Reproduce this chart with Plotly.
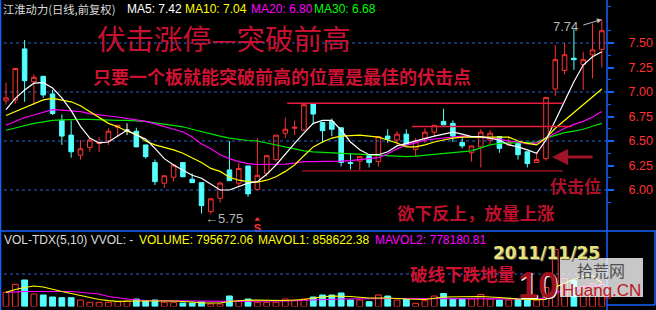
import plotly.graph_objects as go

W, H = 656, 310

# ---------------- data ----------------
opens = [6.91, 6.92, 7.44, 7.105, 7.16, 6.98, 6.71, 6.56, 6.355, 6.435,
         6.475, 6.50, 6.64, 6.61, 6.60, 6.46, 6.28, 6.07, 6.13, 6.28,
         6.11, 6.075, 5.78, 5.915, 6.205, 6.07, 6.245, 6.005, 6.17, 6.31,
         6.58, 6.63, 6.61, 6.88, 6.69, 6.70, 6.635, 6.28, 6.295, 6.35,
         6.29, 6.55, 6.51, 6.57, 6.415, 6.53, 6.59, 6.70, 6.68, 6.485,
         6.38, 6.44, 6.51, 6.545, 6.46, 6.475, 6.39, 6.28, 6.32, 7.03,
         7.22, 7.345, 7.28, 7.38, 7.435]
highs = [7.095, 7.24, 7.53, 7.18, 7.165, 7.02, 6.77, 6.71, 6.51, 6.53,
         6.54, 6.63, 6.665, 6.68, 6.635, 6.46, 6.31, 6.145, 6.26, 6.28,
         6.17, 6.075, 5.92, 6.085, 6.50, 6.275, 6.245, 6.53, 6.35, 6.56,
         6.74, 6.71, 6.89, 6.88, 6.69, 6.73, 6.64, 6.37, 6.345, 6.35,
         6.55, 6.62, 6.60, 6.62, 6.53, 6.63, 6.66, 6.83, 6.71, 6.54,
         6.45, 6.62, 6.61, 6.55, 6.545, 6.48, 6.39, 6.39, 6.945, 7.48,
         7.50, 7.64, 7.41, 7.70, 7.74]
lows = [6.87, 6.88, 6.90, 6.87, 6.94, 6.765, 6.46, 6.33, 6.31, 6.39,
        6.39, 6.46, 6.54, 6.56, 6.44, 6.32, 6.05, 6.02, 6.085, 6.135,
        6.075, 5.76, 5.75, 5.87, 6.095, 6.03, 5.93, 6.005, 6.135, 6.29,
        6.53, 6.56, 6.60, 6.67, 6.48, 6.55, 6.24, 6.21, 6.20, 6.23,
        6.24, 6.48, 6.46, 6.46, 6.34, 6.48, 6.545, 6.665, 6.49, 6.425,
        6.29, 6.23, 6.46, 6.38, 6.46, 6.31, 6.23, 6.28, 6.30, 6.96,
        7.18, 7.225, 7.02, 7.14, 7.25]
closes = [6.94, 7.24, 7.115, 7.15, 6.97, 6.78, 6.55, 6.39, 6.42, 6.51,
          6.485, 6.60, 6.66, 6.61, 6.44, 6.34, 6.085, 6.145, 6.255, 6.135,
          6.075, 5.84, 5.91, 6.07, 6.095, 6.22, 5.96, 6.15, 6.35, 6.56,
          6.62, 6.64, 6.87, 6.775, 6.605, 6.62, 6.28, 6.27, 6.34, 6.28,
          6.545, 6.52, 6.57, 6.46, 6.50, 6.59, 6.66, 6.665, 6.55, 6.45,
          6.45, 6.59, 6.58, 6.425, 6.49, 6.36, 6.27, 6.31, 6.945, 7.33,
          7.38, 7.33, 7.33, 7.43, 7.625]
volumes = [513000, 802500, 958000, 452000, 415700, 343400, 318100, 318100, 235000, 151800,
           151800, 151800, 173500, 198800, 271100, 198800, 235000, 151800, 151800, 126500,
           126500, 173500, 90400, 90400, 379600, 198800, 271100, 151800, 151800, 151800,
           271100, 209700, 271100, 343400, 415700, 415700, 488000, 235000, 235000, 173500,
           415700, 379600, 235000, 271100, 115700, 209700, 379600, 470000, 271100, 271100,
           271100, 433800, 271100, 235000, 235000, 271100, 235000, 235000, 686900, 2060600,
           1012200, 939900, 723000, 822400, 795672]

ma5 = [6.82, 6.935, 7.02, 7.09, 7.095, 7.04, 6.94, 6.81, 6.65, 6.53,
       6.48, 6.49, 6.55, 6.61, 6.56, 6.52, 6.425, 6.32, 6.255, 6.20,
       6.15, 6.12, 6.06, 6.00, 6.00, 6.035, 6.07, 6.085, 6.16, 6.255,
       6.37, 6.475, 6.58, 6.68, 6.71, 6.71, 6.61, 6.49, 6.41, 6.36,
       6.36, 6.39, 6.45, 6.475, 6.50, 6.53, 6.55, 6.57, 6.59, 6.57,
       6.545, 6.545, 6.53, 6.51, 6.46, 6.44, 6.41, 6.375, 6.51, 6.71,
       6.92, 7.105, 7.275, 7.36, 7.41]
ma10 = [6.76, 6.80, 6.84, 6.875, 6.92, 6.935, 6.92, 6.90, 6.86, 6.80,
        6.74, 6.68, 6.645, 6.60, 6.57, 6.50, 6.46, 6.435, 6.41, 6.375,
        6.33, 6.28, 6.22, 6.19, 6.13, 6.10, 6.085, 6.08, 6.10, 6.135,
        6.19, 6.255, 6.35, 6.44, 6.49, 6.53, 6.55, 6.555, 6.56, 6.55,
        6.54, 6.51, 6.48, 6.44, 6.44, 6.46, 6.49, 6.51, 6.53, 6.54,
        6.54, 6.545, 6.545, 6.545, 6.54, 6.50, 6.475, 6.46, 6.53, 6.63,
        6.71, 6.78, 6.87, 6.945, 7.03]
ma20 = [6.66, 6.70, 6.74, 6.765, 6.79, 6.82, 6.815, 6.81, 6.80, 6.78,
        6.765, 6.755, 6.745, 6.73, 6.715, 6.70, 6.675, 6.645, 6.62, 6.595,
        6.54, 6.47, 6.42, 6.36, 6.32, 6.29, 6.27, 6.26, 6.26, 6.26,
        6.265, 6.275, 6.29, 6.29, 6.29, 6.29, 6.295, 6.30, 6.31, 6.32,
        6.33, 6.37, 6.42, 6.46, 6.48, 6.51, 6.52, 6.53, 6.54, 6.55,
        6.545, 6.54, 6.53, 6.52, 6.50, 6.49, 6.47, 6.48, 6.53, 6.58,
        6.63, 6.67, 6.70, 6.745, 6.80]
ma30 = [6.61, 6.635, 6.66, 6.68, 6.695, 6.71, 6.715, 6.72, 6.72, 6.72,
        6.715, 6.71, 6.71, 6.71, 6.705, 6.70, 6.685, 6.67, 6.66, 6.645,
        6.62, 6.595, 6.575, 6.55, 6.53, 6.515, 6.505, 6.50, 6.48, 6.46,
        6.44, 6.42, 6.40, 6.39, 6.385, 6.38, 6.375, 6.37, 6.365, 6.36,
        6.36, 6.355, 6.35, 6.34, 6.345, 6.355, 6.36, 6.37, 6.38, 6.39,
        6.40, 6.43, 6.46, 6.475, 6.48, 6.485, 6.49, 6.49, 6.53, 6.56,
        6.585, 6.60, 6.62, 6.65, 6.68]

mavol1_idx = [0, 1, 2, 3, 4, 5, 6, 7, 8, 9, 10, 11, 12, 14, 16, 18, 20, 21, 23, 24,
              26, 28, 30, 32, 33, 35, 37, 39, 41, 43, 45, 47, 49, 51, 53, 55, 57, 58,
              59, 60, 61, 62, 63, 64]
mavol1 = [513000, 614600, 686900, 741100, 704900, 614600, 542300, 470000, 397700, 325400,
          253100, 209700, 188000, 198800, 209700, 198800, 162700, 126500, 126500, 180800,
          235000, 216900, 216900, 253100, 307300, 379600, 361500, 307300, 307300, 271100,
          253100, 343400, 361500, 361500, 325400, 271100, 245800, 253100,
          697700, 846000, 986900, 1084500, 1111600, 858622]
mavol2_idx = [0, 2, 7, 9, 10, 11, 12, 13, 15, 18, 24, 30, 33, 36, 42, 48, 54, 57, 58,
              59, 60, 61, 62, 63, 64]
mavol2 = [513000, 542300, 542300, 488000, 451900, 361500, 307300, 271100, 216900, 198800,
          188000, 198800, 235000, 271100, 289200, 289200, 289200, 271100, 314500,
          493500, 587600, 638200, 663400, 722100, 778180]

price_ticks = [6.0, 6.25, 6.5, 6.75, 7.0, 7.25, 7.5]
price_minor = [5.875, 6.125, 6.375, 6.625, 6.875, 7.125, 7.375, 7.625, 7.875]
grid_levels = [6.0, 6.5, 7.0, 7.5]
vol_grid_level = 1175000

level_prices = [6.885, 6.648, 6.196]
level_start = [30.2, 43.6, 31.8]
level_end = [59.8, 60.8, 59.8]

low_mark = (22, 5.75)
high_mark = (64, 7.74)
signal_mark = (27, 5.70)

# ---------------- styles ----------------
RED = "rgb(255,50,50)"
CYAN = "rgb(84,255,255)"
BLUE = "rgb(20,100,255)"
GRIDBLUE = "rgb(40,100,210)"
TXTRED = "rgb(205,18,50)"
CJK = "Noto Sans CJK SC"
LAT = "Liberation Sans, Arial"

X0, X1 = -0.6445, 64.555
PRICE_RANGE = [5.5816, 7.9388]
VOL_RANGE = [0, 2223225]


def px(x):
    return x / W


def py(y):
    return 1 - y / H


fig = go.Figure()

n = len(closes)
idx = list(range(n))
up = [i for i in idx if closes[i] > opens[i]]
dn = [i for i in idx if closes[i] < opens[i]]
fl = [i for i in idx if closes[i] == opens[i]]


def candles(ids, color, fill):
    style = dict(line=dict(color=color, width=1), fillcolor=fill)
    return go.Candlestick(
        x=ids,
        open=[opens[i] for i in ids], high=[highs[i] for i in ids],
        low=[lows[i] for i in ids], close=[closes[i] for i in ids],
        increasing=style, decreasing=style, whiskerwidth=0,
        xaxis="x", yaxis="y", showlegend=False, hoverinfo="skip")


fig.add_trace(candles(up, RED, "rgba(0,0,0,0)"))
fig.add_trace(candles(dn, CYAN, CYAN))
fig.add_trace(candles(fl, "white", "white"))

for vals, col in [(ma30, "rgb(0,230,0)"), (ma20, "rgb(255,0,255)"),
                  (ma10, "rgb(255,255,0)"), (ma5, "white")]:
    fig.add_trace(go.Scatter(x=idx, y=vals, mode="lines",
                             line=dict(color=col, width=1.2),
                             xaxis="x", yaxis="y", showlegend=False, hoverinfo="skip"))

# sell-signal marker under the chart
fig.add_trace(go.Scatter(x=[signal_mark[0]], y=[signal_mark[1]], mode="markers+text",
                         marker=dict(symbol="triangle-up", size=5, color=RED),
                         text=["S"], textposition="bottom center",
                         textfont=dict(color=RED, size=11, family=LAT, weight="bold"),
                         xaxis="x", yaxis="y", showlegend=False, hoverinfo="skip",
                         cliponaxis=False))

# volume bars
vup = [i for i in idx if closes[i] >= opens[i]]
vdn = [i for i in idx if closes[i] < opens[i]]
fig.add_trace(go.Bar(x=vup, y=[volumes[i] for i in vup], width=0.62,
                     marker=dict(color="rgba(0,0,0,0)", line=dict(color=RED, width=1)),
                     xaxis="x2", yaxis="y2", showlegend=False, hoverinfo="skip"))
fig.add_trace(go.Bar(x=vdn, y=[volumes[i] for i in vdn], width=0.62,
                     marker=dict(color=CYAN, line=dict(color=CYAN, width=1)),
                     xaxis="x2", yaxis="y2", showlegend=False, hoverinfo="skip"))
fig.add_trace(go.Scatter(x=mavol2_idx, y=mavol2, mode="lines",
                         line=dict(color="rgb(255,0,255)", width=1.2),
                         xaxis="x2", yaxis="y2", showlegend=False, hoverinfo="skip"))
fig.add_trace(go.Scatter(x=mavol1_idx, y=mavol1, mode="lines",
                         line=dict(color="rgb(255,255,0)", width=1.2),
                         xaxis="x2", yaxis="y2", showlegend=False, hoverinfo="skip"))

shapes = []
# dotted grid lines
for g in grid_levels:
    shapes.append(dict(type="line", xref="paper", yref="y", x0=px(4), x1=px(607), y0=g, y1=g,
                       line=dict(color=GRIDBLUE, width=1, dash="dot"), layer="below"))
shapes.append(dict(type="line", xref="paper", yref="y2", x0=px(4), x1=px(607),
                   y0=vol_grid_level, y1=vol_grid_level,
                   line=dict(color=GRIDBLUE, width=1, dash="dot"), layer="below"))
# support / resistance lines
for lvl, a, b, col in zip(level_prices, level_start, level_end,
                          ["rgb(230,30,60)", "rgb(230,30,60)", "rgb(170,20,40)"]):
    shapes.append(dict(type="line", xref="x", yref="y", x0=a, x1=b, y0=lvl, y1=lvl,
                       line=dict(color=col, width=1.3)))
# frame
for (x0, y0, x1, y1) in [(0.5, 0, 0.5, 310), (0, 231, 656, 231), (607, 0, 607, 310),
                         (607, 305, 655, 305), (655, 231, 655, 305)]:
    shapes.append(dict(type="line", xref="paper", yref="paper", x0=px(x0), x1=px(x1),
                       y0=py(y0), y1=py(y1), line=dict(color=BLUE, width=1.5)))
# watermark box
shapes.append(dict(type="rect", xref="paper", yref="paper", x0=px(560), x1=px(643),
                   y0=py(297), y1=py(258), fillcolor="rgba(255,255,255,0.78)",
                   line=dict(width=0), layer="above"))

ann = []


def text(s, x, y, color, size, family=CJK, xanchor="left", bold=False, shadow=None):
    f = dict(color=color, size=size, family=family)
    if bold:
        f["weight"] = "bold"
    if shadow:
        f["shadow"] = shadow
    ann.append(dict(text=s, x=px(x), y=py(y), xref="paper", yref="paper",
                    xanchor=xanchor, yanchor="middle", showarrow=False, font=f))


text("江淮动力(日线,前复权)", 1, 9, "rgb(220,220,220)", 11.3)
text("MA5: 7.42", 125, 9, "white", 12, LAT)
text("MA10: 7.04", 183, 9, "rgb(255,255,0)", 12, LAT)
text("MA20: 6.80", 249, 9, "rgb(255,0,255)", 12, LAT)
text("MA30: 6.68", 312, 9, "rgb(0,255,0)", 12, LAT)

text("伏击涨停—突破前高", 95, 37, "rgb(200,16,48)", 28.5)
text("只要一个板就能突破前高的位置是最佳的伏击点", 91, 76, TXTRED, 18, bold=True)
text("伏击位", 548, 185, "rgb(170,16,40)", 17, bold=True)
text("欲下反上，放量上涨", 395, 212, "rgb(190,16,45)", 17.5, bold=True)
text("破线下跌地量", 408, 273, TXTRED, 17.5, bold=True)

ann.append(dict(text="←%.2f" % low_mark[1], x=low_mark[0], y=low_mark[1], xref="x", yref="y",
                xanchor="left", yanchor="middle", xshift=-8, yshift=-4, showarrow=False,
                font=dict(color="rgb(180,180,180)", size=13, family=LAT)))
ann.append(dict(text="%.2f" % high_mark[1], x=high_mark[0], y=high_mark[1], xref="x", yref="y",
                xanchor="right", yanchor="middle", xshift=-22, yshift=-7, showarrow=False,
                font=dict(color="rgb(180,180,180)", size=13, family=LAT)))
ann.append(dict(text="", x=high_mark[0], y=high_mark[1], xref="x", yref="y",
                showarrow=True, ax=-20, ay=6, arrowhead=2, arrowsize=1, arrowwidth=1,
                arrowcolor="rgb(190,190,190)"))

# red arrow pointing at the ambush point
ann.append(dict(text="", x=px(552), y=py(157), xref="paper", yref="paper", showarrow=True,
                ax=42, ay=0, arrowhead=2, arrowsize=1, arrowwidth=3.2,
                arrowcolor="rgb(160,20,40)"))

# volume header
text("VOL-TDX(5,10) VVOL: -", 2, 240, "rgb(220,220,220)", 12, LAT)
text("VOLUME: 795672.06", 137, 240, "rgb(255,255,0)", 12, LAT)
text("MAVOL1: 858622.38", 256, 240, "rgb(255,255,0)", 12, LAT)
text("MAVOL2: 778180.81", 373, 240, "rgb(255,0,255)", 12, LAT)

text("2011/11/25", 546, 253, "rgb(232,226,120)", 17, "DejaVu Sans", xanchor="center",
     bold=True, shadow="1px 1px 0px #606060")

# watermark
text("10", 538, 285, "rgb(160,16,26)", 36, LAT, xanchor="center", bold=True,
     shadow="1px 1px 0px #ffffff")
text("拾荒网", 601, 270, "rgb(80,80,80)", 16, xanchor="center")
text("Huang.CN", 601, 290, "rgb(190,20,35)", 17, LAT, xanchor="center")

fig.update_layout(
    width=W, height=H,
    margin=dict(l=0, r=0, t=0, b=0),
    paper_bgcolor="black", plot_bgcolor="black",
    showlegend=False, barmode="overlay",
    xaxis=dict(domain=[0, px(607)], range=[X0, X1], visible=False,
               rangeslider=dict(visible=False), anchor="y"),
    xaxis2=dict(domain=[0, px(607)], range=[X0, X1], visible=False, anchor="y2",
                matches="x"),
    yaxis=dict(domain=[py(231), 1], range=PRICE_RANGE, side="right", anchor="x",
               showgrid=False, zeroline=False, showline=False,
               tickvals=price_ticks, ticktext=["%.2f" % v for v in price_ticks],
               ticks="outside", ticklen=6, tickwidth=1.5, tickcolor=BLUE,
               tickfont=dict(color="rgb(255,50,50)", size=12.5, family=LAT),
               ticklabelstandoff=12, automargin=False,
               minor=dict(tickvals=price_minor, ticks="outside", ticklen=3,
                          tickcolor=BLUE, tickwidth=1, showgrid=False)),
    yaxis2=dict(domain=[py(306.5), py(245)], range=VOL_RANGE, visible=False, anchor="x2"),
    shapes=shapes,
    annotations=ann,
)

fig.write_html("out.html")
